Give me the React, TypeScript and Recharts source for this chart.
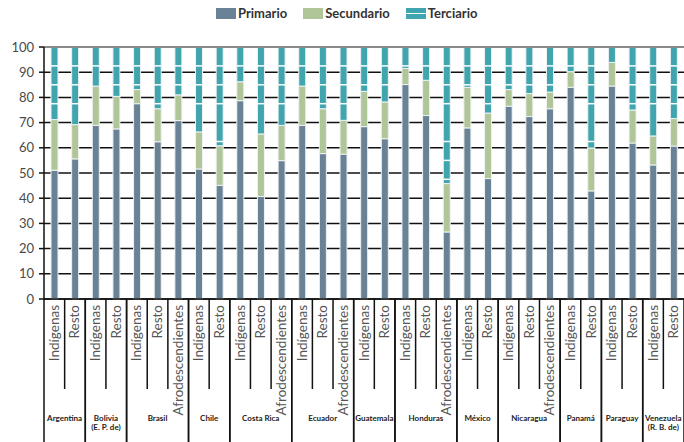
import { Bar, BarChart, CartesianGrid, ReferenceLine, XAxis, YAxis } from "recharts";

const paises = [
  ["Argentina"],
  ["Bolivia", "(E. P. de)"],
  ["Brasil"],
  ["Chile"],
  ["Costa Rica"],
  ["Ecuador"],
  ["Guatemala"],
  ["Honduras"],
  ["México"],
  ["Nicaragua"],
  ["Panamá"],
  ["Paraguay"],
  ["Venezuela", "(R. B. de)"],
];

const poblaciones = [
  ["Indígenas", "Resto"],
  ["Indígenas", "Resto"],
  ["Indígenas", "Resto", "Afrodescendientes"],
  ["Indígenas", "Resto"],
  ["Indígenas", "Resto", "Afrodescendientes"],
  ["Indígenas", "Resto", "Afrodescendientes"],
  ["Indígenas", "Resto"],
  ["Indígenas", "Resto", "Afrodescendientes"],
  ["Indígenas", "Resto"],
  ["Indígenas", "Resto", "Afrodescendientes"],
  ["Indígenas", "Resto"],
  ["Indígenas", "Resto"],
  ["Indígenas", "Resto"],
];

const primario = [
  51.1, 55.6, 68.9, 67.5, 77.5, 62.4, 70.8, 51.6, 45.1, 78.7, 40.7, 54.9, 68.9, 57.7, 57.5, 68.4,
  63.6, 85.1, 72.8, 26.6, 67.9, 47.8, 76.5, 72.4, 75.5, 84.0, 42.9, 84.5, 61.9, 53.2, 60.7,
];
const secundario = [
  20.1, 13.6, 15.6, 12.9, 5.6, 13.1, 10.2, 14.7, 15.7, 7.5, 24.8, 14.0, 15.6, 17.8, 13.4, 14.0,
  14.6, 6.4, 14.0, 19.2, 16.1, 26.0, 6.6, 9.1, 6.6, 6.2, 17.0, 9.4, 13.1, 11.5, 10.9,
];
const terciario = [
  28.8, 30.8, 15.5, 19.6, 16.9, 24.5, 19.0, 33.7, 39.2, 13.8, 34.5, 31.1, 15.5, 24.5, 29.1, 17.6,
  21.8, 8.5, 13.2, 54.2, 16.0, 26.2, 16.9, 18.5, 17.9, 9.8, 40.1, 6.1, 25.0, 35.3, 28.4,
];

const yTicks = [0, 10, 20, 30, 40, 50, 60, 70, 80, 90, 100];
const rayas = [92.5, 85, 77.5, 62.5, 55, 47.5];

const colores = { primario: "#6a8295", secundario: "#b1c698", terciario: "#40a5af" };
const FONT = "Lato, 'Open Sans', sans-serif";

type Fila = {
  key: string;
  sub: string;
  pais: string[];
  pos: number;
  size: number;
  primario: number;
  secundario: number;
  terciario: number;
};

const data: Fila[] = [];
paises.forEach((pais, p) => {
  poblaciones[p].forEach((sub, pos) => {
    const i = data.length;
    data.push({
      key: `${pais[0]}-${sub}`,
      sub,
      pais,
      pos,
      size: poblaciones[p].length,
      primario: primario[i],
      secundario: secundario[i],
      terciario: terciario[i],
    });
  });
});

function CategoriaTick(props: any) {
  const { x, y, payload } = props;
  const row = data[payload.index];
  if (!row) return null;
  const half = payload.offset || 10.32;
  const left = x - half;
  const right = x + half;
  const last = row.pos === row.size - 1;
  return (
    <g>
      {row.pos === 0 && (
        <line x1={left} x2={left} y1={y} y2={y + 145} stroke="#111" strokeWidth={1.5} />
      )}
      <line x1={right} x2={right} y1={y} y2={last ? y + 145 : y + 90} stroke="#111" strokeWidth={1.5} />
      <text
        transform={`translate(${x + 4.5},${y + 6}) rotate(-90)`}
        textAnchor="end"
        fontSize={13.5}
        fontFamily={FONT}
        fill="#555"
      >
        {row.sub}
      </text>
      {row.pos === 0 &&
        row.pais.map((line, k) => (
          <text
            key={line}
            x={left + row.size * half}
            y={y + 122 + k * 8.5}
            textAnchor="middle"
            fontSize={8}
            fontWeight="bold"
            fontFamily={FONT}
            fill="#222"
          >
            {line}
          </text>
        ))}
    </g>
  );
}

function TerciarioShape(props: any) {
  const { x, y, width, height, fill, background } = props;
  const top = background ? background.y : 47;
  const h = background ? background.height : 252;
  return (
    <g>
      <rect x={x} y={y} width={width} height={height} fill={fill} stroke="#eef2f2" strokeWidth={1} />
      {rayas.map((v) => {
        const py = top + h * (1 - v / 100);
        if (py <= y + 1.5 || py >= y + height - 1.5) return null;
        return <line key={v} x1={x} x2={x + width} y1={py} y2={py} stroke="#fff" strokeWidth={1.5} />;
      })}
    </g>
  );
}

function Leyenda() {
  const items = [
    { name: "Primario", color: colores.primario, raya: false },
    { name: "Secundario", color: colores.secundario, raya: false },
    { name: "Terciario", color: colores.terciario, raya: true },
  ];
  return (
    <div
      style={{
        position: "absolute",
        left: 216,
        top: 5,
        display: "flex",
        alignItems: "center",
        fontFamily: FONT,
        fontWeight: "bold",
        fontSize: 13,
        color: "#333",
      }}
    >
      {items.map((it) => (
        <div key={it.name} style={{ display: "flex", alignItems: "center", marginRight: 16 }}>
          <div style={{ width: 20, height: 11, background: it.color, marginRight: 2, position: "relative" }}>
            {it.raya && (
              <div style={{ position: "absolute", left: 0, right: 0, top: 5, height: 1.5, background: "#fff" }} />
            )}
          </div>
          <span>{it.name}</span>
        </div>
      ))}
    </div>
  );
}

export default function App() {
  return (
    <div style={{ position: "absolute", left: 0, top: 0, width: 684, height: 442, background: "#fff" }}>
      <Leyenda />
      <BarChart
        width={684}
        height={442}
        data={data}
        margin={{ top: 47, right: 0, left: 0, bottom: 0 }}
        barCategoryGap={0}
      >
        <CartesianGrid vertical={false} stroke="#111" strokeWidth={1.5} />
        <XAxis
          dataKey="key"
          height={143}
          interval={0}
          tickLine={false}
          tickSize={0}
          tickMargin={0}
          axisLine={{ stroke: "#111", strokeWidth: 1.5 }}
          tick={<CategoriaTick />}
        />
        <YAxis
          width={44}
          domain={[0, 100]}
          ticks={yTicks}
          interval={0}
          tickSize={5}
          tickMargin={5}
          tickLine={{ stroke: "#111", strokeWidth: 1.5 }}
          axisLine={{ stroke: "#111", strokeWidth: 1.5 }}
          tick={{ fontSize: 13, fill: "#4a4a4a", fontFamily: FONT }}
        />
        <Bar
          dataKey="primario"
          stackId="a"
          fill={colores.primario}
          stroke="#eef2f2"
          strokeWidth={1}
          barSize={7}
          isAnimationActive={false}
        />
        <Bar
          dataKey="secundario"
          stackId="a"
          fill={colores.secundario}
          stroke="#eef2f2"
          strokeWidth={1}
          barSize={7}
          isAnimationActive={false}
        />
        <Bar
          dataKey="terciario"
          stackId="a"
          fill={colores.terciario}
          barSize={7}
          shape={<TerciarioShape />}
          isAnimationActive={false}
        />
        <ReferenceLine y={100} stroke="#8a8a8a" strokeWidth={2} />
      </BarChart>
    </div>
  );
}
